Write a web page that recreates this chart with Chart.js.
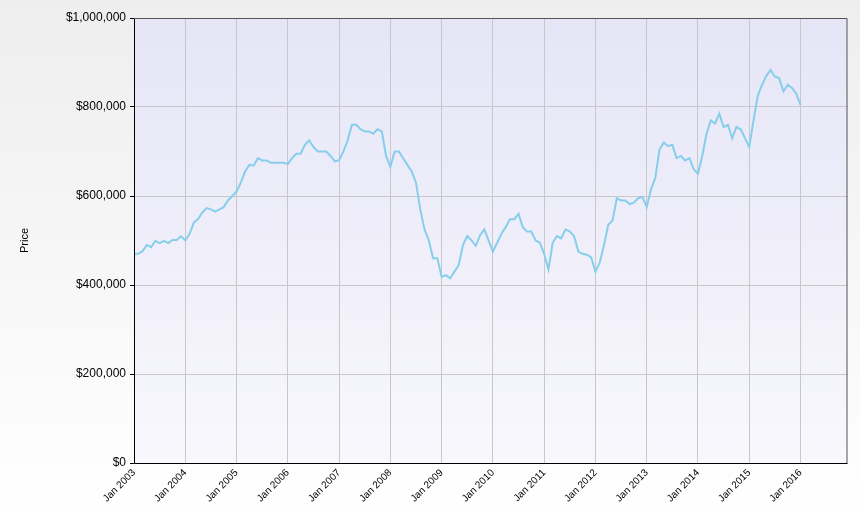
<!DOCTYPE html>
<html><head><meta charset="utf-8">
<script src="https://cdn.jsdelivr.net/npm/chart.js@4"></script>
<style>html,body{margin:0;padding:0;background:linear-gradient(#eeeeee,#ffffff);}#w{width:860px;height:517px;}</style>
</head><body><div id="w"><canvas id="c"></canvas></div>
<script>
const years = [2003,2004,2005,2006,2007,2008,2009,2010,2011,2012,2013,2014,2015,2016];
const months = ['Jan','Feb','Mar','Apr','May','Jun','Jul','Aug','Sep','Oct','Nov','Dec'];
const prices2003 = [470,470,476,490,485,499,494,499,494,501,501,510];
const prices2004 = [500,515,540,548,563,573,570,565,570,575,590,600];
const prices2005 = [610,630,655,670,668,685,680,680,675,675,675,675];
const prices2006 = [672,685,695,695,715,725,710,700,700,700,690,678];
const prices2007 = [680,700,725,760,760,750,745,745,740,750,745,690];
const prices2008 = [665,700,700,685,670,655,630,570,525,500,460,460];
const prices2009 = [418,422,415,430,445,490,510,500,488,512,525,500];
const prices2010 = [475,495,515,530,548,548,560,530,520,520,500,495];
const prices2011 = [470,435,495,510,505,525,520,510,475,470,468,462];
const prices2012 = [430,450,490,535,545,595,590,590,582,585,595,598];
const prices2013 = [575,615,640,705,720,712,715,685,690,680,685,660];
const prices2014 = [650,690,740,770,763,785,755,760,730,755,750,730];
const prices2015 = [710,770,825,850,870,883,868,865,835,850,843,830];
const prices2016 = [805];
const allK = [].concat(prices2003,prices2004,prices2005,prices2006,prices2007,prices2008,prices2009,prices2010,prices2011,prices2012,prices2013,prices2014,prices2015,prices2016);
const values = allK.map(v=>v*1000);
const labels = [];
years.forEach(y=>months.forEach(m=>labels.push(m+' '+y)));

const bgPlugin = {id:'bg',beforeDraw(ch){const a=ch.chartArea,c=ch.ctx;const g=c.createLinearGradient(0,a.top,0,a.bottom);g.addColorStop(0,'#e6e5f7');g.addColorStop(1,'#f8f8fd');c.save();c.fillStyle=g;c.fillRect(a.left,a.top,a.right-a.left,a.bottom-a.top);c.restore();},
 afterDraw(ch){const a=ch.chartArea,c=ch.ctx;c.save();c.strokeStyle='#000';c.lineWidth=1;c.beginPath();c.moveTo(a.left+0.5,a.top);c.lineTo(a.left+0.5,a.bottom+0.5);c.lineTo(a.right,a.bottom+0.5);c.stroke();c.strokeStyle='#555';c.beginPath();c.moveTo(a.left,a.top+0.5);c.lineTo(a.right-0.5,a.top+0.5);c.lineTo(a.right-0.5,a.bottom);c.stroke();c.restore();}};

new Chart(document.getElementById('c'),{type:'line',
data:{labels,datasets:[{data:values,borderColor:'#87ceeb',borderWidth:2,pointRadius:0,tension:0,fill:false}]},
options:{responsive:true,maintainAspectRatio:false,animation:false,
 layout:{padding:{top:18,right:5,left:0,bottom:0}},
 plugins:{legend:{display:false},tooltip:{enabled:false}},
 scales:{
  x:{offset:false,grid:{color:(ctx)=>ctx.index%12===0&&ctx.index<labels.length-1?'#c8c8c8':'rgba(0,0,0,0)',drawTicks:false},border:{display:false},
     ticks:{autoSkip:false,maxRotation:45,minRotation:45,color:'#000',font:{family:'Liberation Sans',size:10},padding:4,
       callback:(v,i)=>(i%12===0&&i<=156)?labels[i]:''},
     afterFit(s){s.height=54;}},
  y:{min:0,max:1000000,grid:{color:'#c8c8c8',drawTicks:true,tickLength:4,tickColor:'#000'},border:{display:false},
     ticks:{stepSize:200000,color:'#000',font:{family:'Liberation Sans',size:12},padding:4,
       callback:v=>'$'+v.toLocaleString('en-US')},
     title:{display:true,text:'Price',color:'#000',font:{family:'Liberation Sans',size:11},padding:{top:18,bottom:0}},
     afterFit(s){s.width=134;}}
 }},plugins:[bgPlugin]});
</script></body></html>
